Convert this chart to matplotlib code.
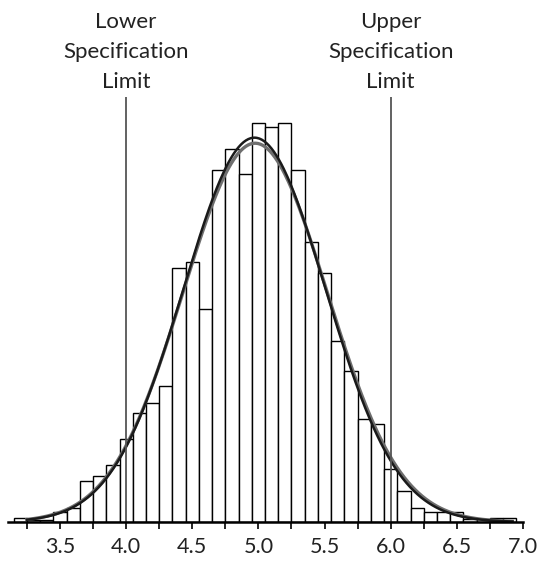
import matplotlib
matplotlib.use("Agg")
import matplotlib.pyplot as plt
import matplotlib.transforms as mtransforms
import numpy as np

# histogram data (bin centres and counts, bin width 0.1)
bin_centers = [3.2, 3.3, 3.4, 3.5, 3.6, 3.7, 3.8, 3.9, 4.0, 4.1,
               4.2, 4.3, 4.4, 4.5, 4.6, 4.7, 4.8, 4.9, 5.0, 5.1,
               5.2, 5.3, 5.4, 5.5, 5.6, 5.7, 5.8, 5.9, 6.0, 6.1,
               6.2, 6.3, 6.4, 6.5, 6.6, 6.7, 6.8, 6.9]
counts = [2.2, 1.2, 1.0, 5.0, 7.0, 20.5, 23.2, 28.3, 41.6, 54.5,
          59.3, 68.0, 127.0, 130.0, 106.3, 176.0, 186.3, 174.0, 199.6, 197.6,
          199.6, 176.0, 140.1, 124.3, 90.3, 75.3, 51.6, 49.1, 26.6, 15.7,
          7.2, 5.2, 5.2, 5.2, 1.7, 1.7, 2.0, 2.0]
bin_width = 0.1

lsl = 4.0
usl = 6.0
nominal_mean = 4.975
nominal_sd = 0.545

tick_labels = ["3.5", "4.0", "4.5", "5.0", "5.5", "6.0", "6.5", "7.0"]

fam = ["Lato", "DejaVu Sans"]

fig = plt.figure(figsize=(5.39, 5.61), dpi=100)
ax = fig.add_axes([8 / 539, 39 / 561, 515 / 539, 425 / 561])

x = np.array(bin_centers)
y = np.array(counts)
ax.bar(x, y, width=bin_width, color="white", edgecolor="black", linewidth=1.0, zorder=2)

# fitted normal from the histogram, plus nominal process curve
n = y.sum()
mu = (x * y).sum() / n
sd = np.sqrt(((x - mu) ** 2 * y).sum() / n)
xs = np.linspace(3.25, 6.92, 400)
fit = n * bin_width / (sd * np.sqrt(2 * np.pi)) * np.exp(-0.5 * ((xs - mu) / sd) ** 2)
nom = n * bin_width / (nominal_sd * np.sqrt(2 * np.pi)) * np.exp(-0.5 * ((xs - nominal_mean) / nominal_sd) ** 2)
ax.plot(xs, nom, color="#6e6e6e", linewidth=2.4, zorder=3)
ax.plot(xs, fit, color="#1a1a1a", linewidth=1.8, zorder=4)

# spec limits
for v in (lsl, usl):
    ax.axvline(v, color="#555555", linewidth=1.3, zorder=5)

trans = mtransforms.blended_transform_factory(ax.transData, fig.transFigure)
ax.text(lsl, 0.908, "Lower\nSpecification\nLimit", transform=trans,
        ha="center", va="center", fontsize=16, linespacing=1.62, color="#222222", family=fam)
ax.text(usl, 0.908, "Upper\nSpecification\nLimit", transform=trans,
        ha="center", va="center", fontsize=16, linespacing=1.62, color="#222222", family=fam)

ax.set_xlim(3.107, 7.0)
ax.set_ylim(0, 212.5)

for s in ("top", "right", "left"):
    ax.spines[s].set_visible(False)
ax.spines["bottom"].set_linewidth(1.8)
ax.spines["bottom"].set_zorder(6)

ax.set_yticks([])
ax.set_xticks(np.arange(3.5, 7.01, 0.5))
ax.set_xticklabels(tick_labels, family=fam, fontsize=15.5, color="#222222")
ax.set_xticks(np.arange(3.25, 7.0, 0.5), minor=True)
ax.tick_params(axis="x", which="both", direction="out", length=5, width=1.2, color="black", pad=6)

fig.savefig("out.png", dpi=100)
